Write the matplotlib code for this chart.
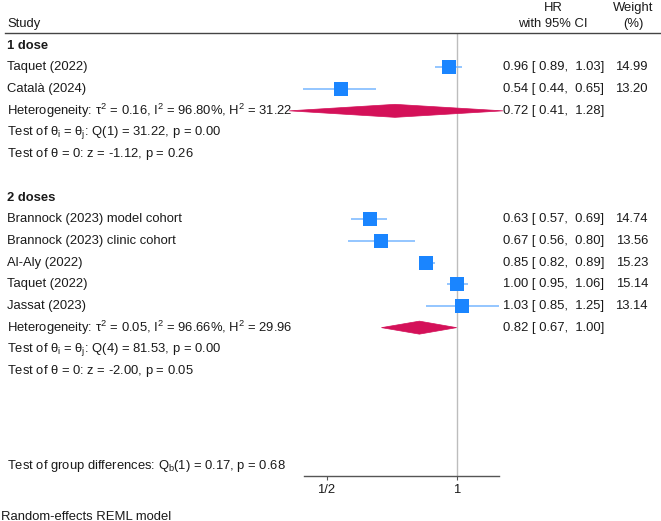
import numpy as np
import matplotlib
matplotlib.use("Agg")
import matplotlib.pyplot as plt
from matplotlib import transforms
from matplotlib.lines import Line2D
from matplotlib.patches import Polygon

plt.rcParams['font.family'] = ['Liberation Sans', 'DejaVu Sans']
plt.rcParams['mathtext.fontset'] = 'custom'
plt.rcParams['mathtext.rm'] = 'Liberation Sans'
plt.rcParams['mathtext.it'] = 'Liberation Sans'
plt.rcParams['mathtext.bf'] = 'Liberation Sans:bold'

# ---------------- data ----------------
group_names = ["1 dose", "2 doses"]

studies_1 = ["Taquet (2022)", "Català (2024)"]
hr_1 = [0.96, 0.54]
lo_1 = [0.89, 0.44]
hi_1 = [1.03, 0.65]
w_1 = [14.99, 13.20]
pooled_1 = [0.72, 0.41, 1.28]
het_1 = r"Heterogeneity: $\tau^2$ = 0.16, $\mathrm{I}^2$ = 96.80%, $\mathrm{H}^2$ = 31.22"
qtest_1 = r"Test of $\theta_\mathrm{i}$ = $\theta_\mathrm{j}$: Q(1) = 31.22, p = 0.00"
ztest_1 = r"Test of $\theta$ = 0: z = -1.12, p = 0.26"

studies_2 = ["Brannock (2023) model cohort", "Brannock (2023) clinic cohort",
             "Al-Aly (2022)", "Taquet (2022)", "Jassat (2023)"]
hr_2 = [0.63, 0.67, 0.85, 1.00, 1.03]
lo_2 = [0.57, 0.56, 0.82, 0.95, 0.85]
hi_2 = [0.69, 0.80, 0.89, 1.06, 1.25]
w_2 = [14.74, 13.56, 15.23, 15.14, 13.14]
pooled_2 = [0.82, 0.67, 1.00]
het_2 = r"Heterogeneity: $\tau^2$ = 0.05, $\mathrm{I}^2$ = 96.66%, $\mathrm{H}^2$ = 29.96"
qtest_2 = r"Test of $\theta_\mathrm{i}$ = $\theta_\mathrm{j}$: Q(4) = 81.53, p = 0.00"
ztest_2 = r"Test of $\theta$ = 0: z = -2.00, p = 0.05"

group_test = r"Test of group differences: $\mathrm{Q}_\mathrm{b}$(1) = 0.17, p = 0.68"
footnote = "Random-effects REML model"

tick_vals = [0.5, 1]
tick_labels = ["1/2", "1"]

# ---------------- layout ----------------
W, H = 661, 521
FS = 9.35
sq_col = "#1a85ff"
ci_col = "#76b6ff"
dia_col = "#d41159"
txt_col = "#1a1a1a"

fig = plt.figure(figsize=(W / 100, H / 100), dpi=100)
ax_left, ax_right, ax_top, ax_bot = 304, 499, 33, 476
ax = fig.add_axes([ax_left / W, (H - ax_bot) / H, (ax_right - ax_left) / W, (ax_bot - ax_top) / H])

row0_px, row_h = 45.8, 21.68
def px2row(p):
    return (p - row0_px) / row_h

ax.set_xscale('log', base=2)
ax.set_xlim(0.4434, 1.2532)
ax.set_ylim(px2row(ax_bot), px2row(ax_top))

tr_left = transforms.blended_transform_factory(fig.transFigure, ax.transData)

def sq_size(w):
    return 2.66 * np.sqrt(w)

def draw_group(start_row, name, studies, hr, lo, hi, w, pooled, het, qt, zt):
    r = start_row
    ax.text(7 / W, r, name, transform=tr_left, fontsize=FS, fontweight='bold',
            va='center', ha='left', color=txt_col)
    r += 1
    for s, h, l, u, ww in zip(studies, hr, lo, hi, w):
        ax.text(7 / W, r, s, transform=tr_left, fontsize=FS, va='center', ha='left', color=txt_col)
        ax.plot([l, u], [r, r], color=ci_col, lw=1.1, solid_capstyle='butt', zorder=2, clip_on=False)
        ax.plot([h], [r], marker='s', ms=sq_size(ww), mew=0, color=sq_col, zorder=3, clip_on=False)
        ax.text(502.7 / W, r, f"{h:.2f} [ {l:.2f},  {u:.2f}]", transform=tr_left,
                fontsize=FS, va='center', ha='left', color=txt_col)
        ax.text(648 / W, r, f"{ww:.2f}", transform=tr_left, fontsize=FS,
                va='center', ha='right', color=txt_col)
        r += 1
    ax.text(7 / W, r, het, transform=tr_left, fontsize=FS, va='center', ha='left', color=txt_col)
    pe, pl, pu = pooled
    hh = 0.3
    dia = Polygon([[pl, r], [pe, r - hh], [pu, r], [pe, r + hh]], closed=True,
                  facecolor=dia_col, edgecolor=dia_col, lw=0.5, zorder=3, clip_on=False)
    ax.add_patch(dia)
    ax.text(502.7 / W, r, f"{pe:.2f} [ {pl:.2f},  {pu:.2f}]", transform=tr_left,
            fontsize=FS, va='center', ha='left', color=txt_col)
    r += 1
    ax.text(7 / W, r, qt, transform=tr_left, fontsize=FS, va='center', ha='left', color=txt_col)
    r += 1
    ax.text(7 / W, r, zt, transform=tr_left, fontsize=FS, va='center', ha='left', color=txt_col)
    r += 1
    return r

r = draw_group(0, group_names[0], studies_1, hr_1, lo_1, hi_1, w_1, pooled_1, het_1, qtest_1, ztest_1)
r = draw_group(r + 1, group_names[1], studies_2, hr_2, lo_2, hi_2, w_2, pooled_2, het_2, qtest_2, ztest_2)

ax.text(7 / W, px2row(466), group_test, transform=tr_left, fontsize=FS, va='center', ha='left', color=txt_col)

# reference line at 1
ax.axvline(1, color="#bdbdbd", lw=1.0, zorder=1)

# axis styling
for s in ['top', 'right', 'left']:
    ax.spines[s].set_visible(False)
ax.spines['bottom'].set_color("#555555")
ax.spines['bottom'].set_linewidth(1.0)
ax.set_yticks([])
ax.set_xticks(tick_vals)
ax.set_xticklabels(tick_labels)
ax.xaxis.set_minor_locator(matplotlib.ticker.NullLocator())
ax.tick_params(axis='x', length=3, width=0.8, color="#555555", labelsize=FS, pad=3, labelcolor=txt_col)
ax.patch.set_alpha(0)

# header
fig.text(7 / W, 1 - 27.3 / H, "Study", fontsize=FS, ha='left', va='baseline', color=txt_col)
fig.text(553.5 / W, 1 - 11.2 / H, "HR", fontsize=FS, ha='center', va='baseline', color=txt_col)
fig.text(553 / W, 1 - 27.3 / H, "with 95% CI", fontsize=FS, ha='center', va='baseline', color=txt_col)
fig.text(633.5 / W, 1 - 11.2 / H, "Weight", fontsize=FS, ha='center', va='baseline', color=txt_col)
fig.text(633.5 / W, 1 - 27.3 / H, "(%)", fontsize=FS, ha='center', va='baseline', color=txt_col)
fig.add_artist(Line2D([4.5 / W, 1], [1 - 32.5 / H, 1 - 32.5 / H], transform=fig.transFigure,
                      color="#444444", lw=1.0))

fig.text(1 / W, 1 - 516.5 / H, footnote, fontsize=FS, ha='left', va='center', color=txt_col)

fig.savefig("out.png", dpi=100)
